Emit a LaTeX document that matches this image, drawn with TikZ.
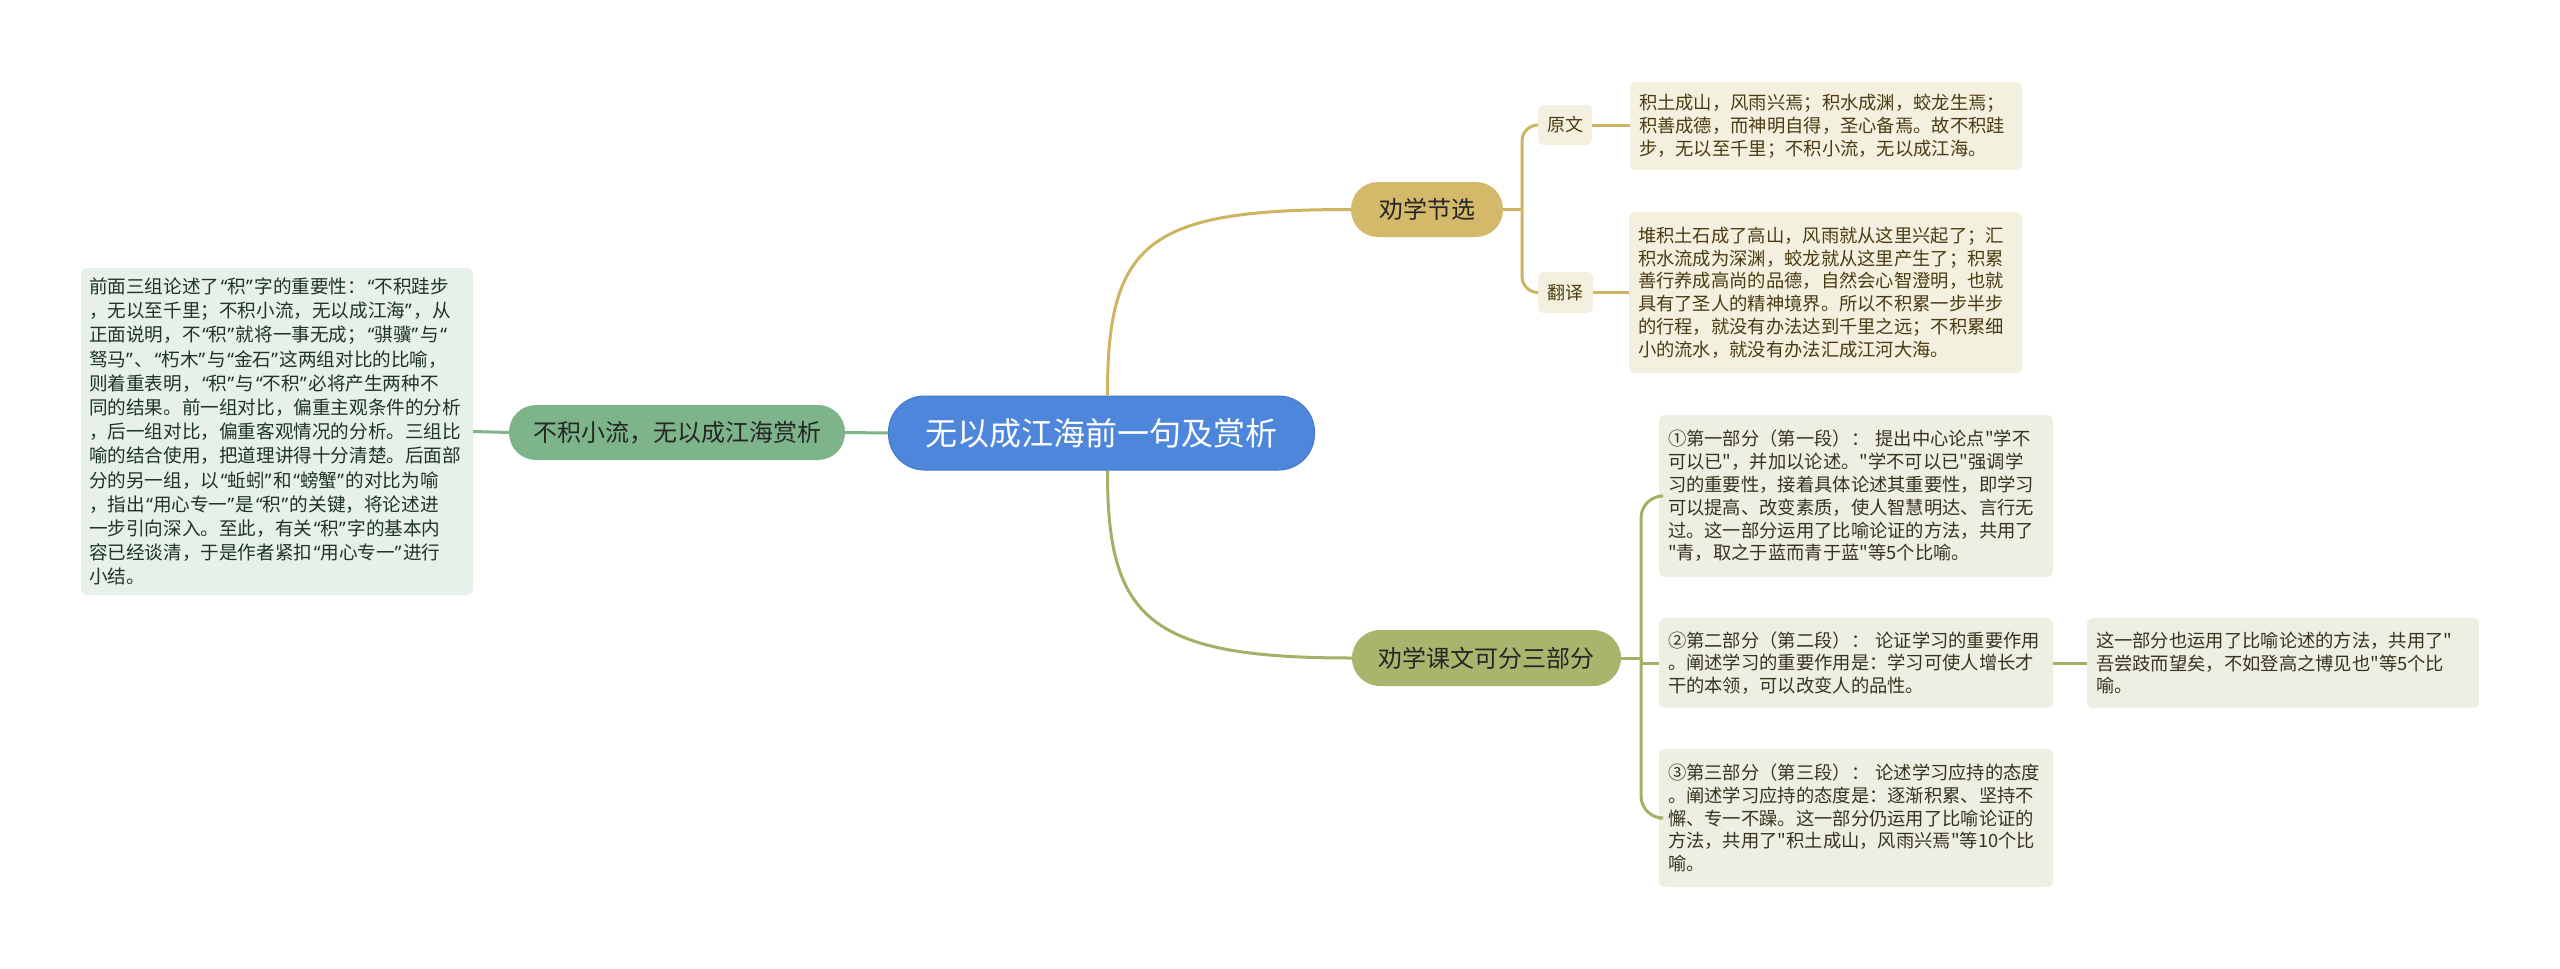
\documentclass[tikz,border=0pt]{standalone}
\usepackage{fontspec}
\setmainfont{Noto Sans CJK SC}[Ligatures=TeXOff]
\newfontfamily\qf{Noto Sans}
\newcommand{\oq}{\makebox[0.45em][r]{\qf “}}
\newcommand{\cq}{\makebox[0.45em][l]{\qf ”}}
\definecolor{cblue}{HTML}{4D86DB}
\definecolor{cblueb}{HTML}{4279CC}
\definecolor{cgreen}{HTML}{7DB48A}
\definecolor{clbox}{HTML}{E7F1E9}
\definecolor{cltext}{HTML}{1E3523}
\definecolor{cgold}{HTML}{D5B96A}
\definecolor{cgoldl}{HTML}{CDB462}
\definecolor{cgoldbox}{HTML}{F4F0DF}
\definecolor{cgoldtext}{HTML}{4A3B12}
\definecolor{colive}{HTML}{A9B56C}
\definecolor{colivel}{HTML}{A5AF68}
\definecolor{colbox}{HTML}{EEEEE2}
\definecolor{coltext}{HTML}{35351E}
\tikzset{
  pill/.style={rounded corners=27pt, inner sep=0pt, minimum height=55pt, font=\fontsize{24}{28}\selectfont, text=black!85},
  txtbox/.style={rounded corners=6pt, inner xsep=9pt, inner ysep=0pt, align=left, font=\fontsize{18.3}{22.8}\selectfont},
  smallbox/.style={rounded corners=6pt, inner sep=0pt, fill=cgoldbox, text=cgoldtext, font=\fontsize{18}{22}\selectfont, minimum width=55pt, minimum height=41pt},
  gline/.style={draw=cgreen, line width=3pt},
  yline/.style={draw=cgoldl, line width=3pt},
  oline/.style={draw=colivel, line width=3pt}
}
\begin{document}
\begin{tikzpicture}[x=1pt,y=-1pt]
\fill[white] (0,0) rectangle (2560,969);
\useasboundingbox (0,0) rectangle (2560,969);

\node[pill, fill=cblue, draw=cblueb, line width=1pt, rounded corners=36pt, minimum width=426pt, minimum height=74pt, text=white, font=\fontsize{32}{36}\selectfont] (C) at (1101.5,433) {无以成江海前一句及赏析};
\node[pill, fill=cgreen, minimum width=336pt] (G) at (677,432.5) {不积小流，无以成江海赏析};
\node[pill, fill=cgold, minimum width=152pt] (J) at (1427,209.5) {劝学节选};
\node[pill, fill=colive, minimum width=269pt, minimum height=56pt, rounded corners=28pt] (K) at (1486.5,658) {劝学课文可分三部分};
\node[smallbox, minimum width=54pt, minimum height=40pt] (Y) at (1565,125) {原文};
\node[smallbox] (F) at (1565.5,292.5) {翻译};

\node[txtbox, fill=clbox, text=cltext, minimum width=392pt, minimum height=327pt, text width=376pt, inner xsep=8pt, font=\fontsize{18.6}{24.2}\selectfont] (L) at (277,431.5) {前面三组论述了\oq 积\cq 字的重要性：\oq 不积跬步\\
，无以至千里；不积小流，无以成江海\cq ，从\\
正面说明，不\oq 积\cq 就将一事无成；\oq 骐骥\cq 与\oq\\
驽马\cq 、\oq 朽木\cq 与\oq 金石\cq 这两组对比的比喻，\\
则着重表明，\oq 积\cq 与\oq 不积\cq 必将产生两种不\\
同的结果。前一组对比，偏重主观条件的分析\\
，后一组对比，偏重客观情况的分析。三组比\\
喻的结合使用，把道理讲得十分清楚。后面部\\
分的另一组，以\oq 蚯蚓\cq 和\oq 螃蟹\cq 的对比为喻\\
，指出\oq 用心专一\cq 是\oq 积\cq 的关键，将论述进\\
一步引向深入。至此，有关\oq 积\cq 字的基本内\\
容已经谈清，于是作者紧扣\oq 用心专一\cq 进行\\
小结。};

\node[txtbox, fill=cgoldbox, text=cgoldtext, minimum width=392pt, minimum height=88pt, text width=374pt] (YB) at (1826,126) {积土成山，风雨兴焉；积水成渊，蛟龙生焉；\\
积善成德，而神明自得，圣心备焉。故不积跬\\
步，无以至千里；不积小流，无以成江海。};

\node[txtbox, fill=cgoldbox, text=cgoldtext, minimum width=393pt, minimum height=161pt, text width=375pt] (FB) at (1825.5,292.5) {堆积土石成了高山，风雨就从这里兴起了；汇\\
积水流成为深渊，蛟龙就从这里产生了；积累\\
善行养成高尚的品德，自然会心智澄明，也就\\
具有了圣人的精神境界。所以不积累一步半步\\
的行程，就没有办法达到千里之远；不积累细\\
小的流水，就没有办法汇成江河大海。};

\node[txtbox, fill=colbox, text=coltext, minimum width=394pt, minimum height=162pt, text width=376pt] (P1) at (1856,496) {①第一部分（第一段）： 提出中心论点"学不\\
可以已"，并加以论述。"学不可以已"强调学\\
习的重要性，接着具体论述其重要性，即学习\\
可以提高、改变素质，使人智慧明达、言行无\\
过。这一部分运用了比喻论证的方法，共用了\\
"青，取之于蓝而青于蓝"等5个比喻。};

\node[txtbox, fill=colbox, text=coltext, minimum width=394pt, minimum height=90pt, text width=376pt] (P2) at (1856,663) {②第二部分（第二段）： 论证学习的重要作用\\
。阐述学习的重要作用是：学习可使人增长才\\
干的本领，可以改变人的品性。};

\node[txtbox, fill=colbox, text=coltext, minimum width=394pt, minimum height=138pt, text width=376pt] (P3) at (1856,818) {③第三部分（第三段）： 论述学习应持的态度\\
。阐述学习应持的态度是：逐渐积累、坚持不\\
懈、专一不躁。这一部分仍运用了比喻论证的\\
方法，共用了"积土成山，风雨兴焉"等10个比\\
喻。};

\node[txtbox, fill=colbox, text=coltext, minimum width=392pt, minimum height=90pt, text width=374pt] (P2C) at (2283,663) {这一部分也运用了比喻论述的方法，共用了"\\
吾尝跂而望矣，不如登高之博见也"等5个比\\
喻。};

% connectors
\draw[gline] (C.west) -- (G.east);
\draw[gline] (G.west) -- (L.east);
\draw[yline] ([xshift=6pt]C.north) .. controls (1107,240) and (1150,209.5) .. (J.west);
\draw[oline] ([xshift=6pt]C.south) .. controls (1107,620) and (1150,658) .. (K.west);
\coordinate (b1) at (1522,209.5);
\draw[yline] (J.east) -- (b1);
\draw[yline, rounded corners=16pt] (b1) |- (Y.west);
\draw[yline, rounded corners=16pt] (b1) |- (F.west);
\draw[yline] (Y.east) -- (Y.east -| YB.west);
\draw[yline] (F.east) -- (FB.west);
\coordinate (b2) at (1641,658);
\draw[oline] (K.east) -- (b2);
\draw[oline, rounded corners=22pt] (b2) |- (P1.west);
\draw[oline, rounded corners=22pt] (b2) |- (P3.west);
\draw[oline] (b2) |- (P2.west);
\draw[oline] (P2.east) -- (P2C.west);
\end{tikzpicture}
\end{document}
